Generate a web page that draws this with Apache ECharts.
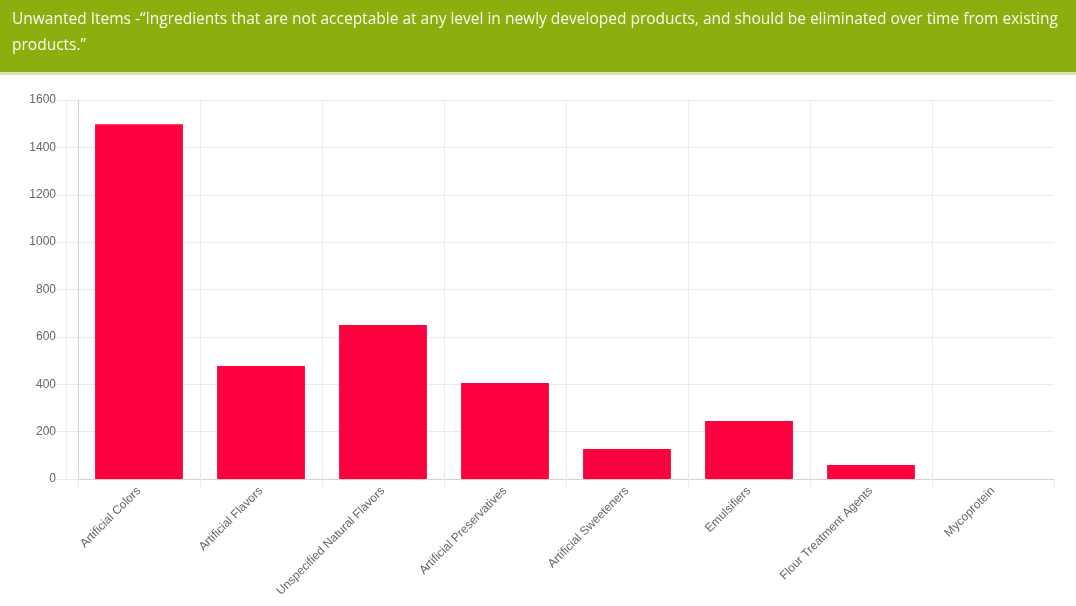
<!DOCTYPE html>
<html>
<head>
<meta charset="utf-8">
<script src="https://cdn.jsdelivr.net/npm/echarts@6/dist/echarts.min.js"></script>
<style>
  html, body { margin: 0; padding: 0; background: #ffffff; }
  #chart { width: 1076px; height: 606px; }
</style>
</head>
<body>
<div id="chart"></div>
<script>
// Ingredient categories and counts of flagged products
const categories = [
  'Artificial Colors',
  'Artificial Flavors',
  'Unspecified Natural Flavors',
  'Artificial Preservatives',
  'Artificial Sweeteners',
  'Emulsifiers',
  'Flour Treatment Agents',
  'Mycoprotein'
];
const counts = [1498, 477, 650, 405, 127, 245, 59, 0];
const yTicks = [0, 200, 400, 600, 800, 1000, 1200, 1400, 1600];

const headerLines = [
  'Unwanted Items -\u201CIngredients that are not acceptable at any level in newly developed products, and should be eliminated over time from existing',
  'products.\u201D'
];

const chart = echarts.init(document.getElementById('chart'), null, { renderer: 'canvas' });

const gridLine = '#ebebeb';
const axisGrey = '#d4d4d4';
const labelGrey = '#666666';
const tickFont = '"Liberation Sans", Arial, sans-serif';
const gridLeft = 78;

chart.setOption({
  animation: false,
  backgroundColor: '#ffffff',
  graphic: [
    { type: 'rect', shape: { x: 0, y: 0, width: 1076, height: 72 }, style: { fill: '#8aaf0e' }, silent: true },
    { type: 'rect', shape: { x: 0, y: 72, width: 1076, height: 3 }, style: { fill: '#d6e6b0' }, silent: true },
    {
      type: 'text', left: 12, top: 7,
      style: {
        text: headerLines.join('\n'),
        fill: '#fbfbf0',
        font: '15.5px "Open Sans", "Noto Sans", sans-serif',
        lineHeight: 26
      },
      silent: true
    }
  ],
  grid: { left: gridLeft, right: 22, top: 100, bottom: 127, containLabel: false },
  xAxis: {
    type: 'category',
    data: categories,
    boundaryGap: true,
    axisLine: { show: true, lineStyle: { color: axisGrey, width: 1 } },
    axisTick: { show: true, length: 10, alignWithLabel: false, lineStyle: { color: gridLine } },
    splitLine: {
      show: true,
      showMaxLine: false,
      lineStyle: { color: gridLine, width: 1 }
    },
    axisLabel: {
      rotate: 45,
      interval: 0,
      margin: 10,
      color: labelGrey,
      fontSize: 12,
      fontFamily: tickFont
    }
  },
  yAxis: {
    type: 'value',
    min: yTicks[0],
    max: yTicks[yTicks.length - 1],
    interval: 200,
    axisLine: { show: true, lineStyle: { color: axisGrey, width: 1 } },
    axisTick: { show: true, length: 21, lineStyle: { color: gridLine } },
    splitLine: { show: true, lineStyle: { color: gridLine, width: 1 } },
    axisLabel: {
      margin: 22,
      color: labelGrey,
      fontSize: 12,
      fontFamily: tickFont,
      formatter: function (v) { return String(v); }
    }
  },
  series: [{
    type: 'bar',
    data: counts,
    barWidth: '72%',
    itemStyle: { color: '#ff003f' }
  }]
});

// faint scale border just left of the plot, spanning the value range
const yTop = chart.convertToPixel({ yAxisIndex: 0 }, yTicks[yTicks.length - 1]);
const yBottom = chart.convertToPixel({ yAxisIndex: 0 }, yTicks[0]);
chart.setOption({
  graphic: [
    {
      type: 'line', id: 'scaleBorder', silent: true,
      shape: { x1: gridLeft - 11.5, y1: yTop, x2: gridLeft - 11.5, y2: yBottom },
      style: { stroke: gridLine, lineWidth: 1 }
    }
  ]
});
</script>
</body>
</html>
